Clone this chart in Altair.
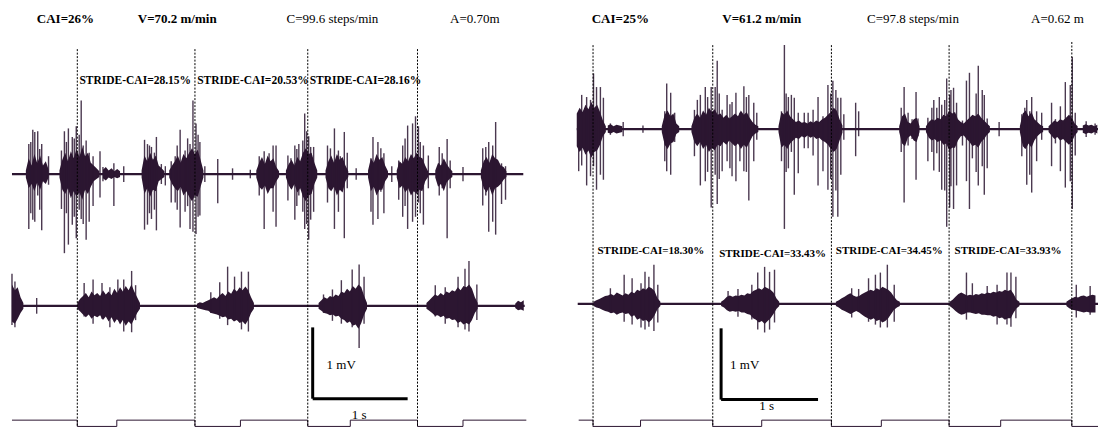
import altair as alt
import pandas as pd

INK = "#2c1631"
FONT = "Liberation Serif"
Y_TOP = 429 / 73.0          # vertical extent of each panel, in mV units
PANEL_W, PANEL_H = 545, 419
DT = 0.03                   # sampling step of the burst-core amplitude readings (s)

# ---------------- LEFT PANEL (CAI=26%) ----------------
L_XDOM = [-0.042, 5.698]
L1_OFF, L2_OFF = 3.548, 1.699          # trace baselines (layout)
L1_SPAN = (0.0, 5.385)
L2_SPAN = (0.0, 5.40)

# (time s, top mV, bottom mV) of the individual spikes, top EMG trace
L1_SPIKES = [
    (0.177, 0.42, -0.77), (0.198, 0.45, -0.55), (0.219, 0.62, -0.64), (0.240, 0.59, -0.67),
    (0.271, 0.60, -0.30), (0.292, 0.35, -0.50), (0.313, 0.42, -0.79), (0.385, 0.25, -0.15),
    (0.521, 0.33, -0.49), (0.552, 0.60, -1.11), (0.573, 0.45, -0.55), (0.594, 0.64, -0.99),
    (0.635, 0.52, -0.71), (0.656, 0.50, -0.60), (0.677, 0.67, -0.90), (0.708, 0.55, -0.50),
    (0.729, 1.03, -0.63), (0.750, 0.40, -0.70), (0.781, 0.47, -0.92), (0.813, 0.30, -0.67),
    (0.854, 0.25, -0.45), (0.927, 0.32, -0.33), (0.958, 0.10, -0.10), (1.073, 0.15, -0.45),
    (1.177, 0.11, -0.11),
    (1.396, 0.48, -0.78), (1.427, 0.42, -0.71), (1.448, 0.40, -0.55), (1.469, 0.38, -0.63),
    (1.500, 0.30, -0.50), (1.521, 0.52, -0.79), (1.573, 0.14, -0.14), (1.615, 0.11, -0.16),
    (1.677, 0.18, -0.40), (1.719, 0.25, -0.40), (1.740, 0.40, -0.50), (1.771, 0.62, -0.75),
    (1.823, 0.33, -0.53), (1.850, 0.50, -0.45), (1.875, 0.42, -0.77), (1.906, 1.03, -0.81),
    (1.938, 0.71, -0.84), (1.960, 0.55, -0.60), (1.979, 0.45, -0.58),
    (2.031, 0.11, -0.11), (2.167, 0.21, -0.41), (2.323, 0.08, -0.08), (2.510, 0.06, -0.06),
    (2.604, 0.25, -0.30), (2.656, 0.32, -0.77), (2.708, 0.29, -0.20), (2.750, 0.40, -0.53),
    (2.781, 0.40, -0.74),
    (2.906, 0.26, -0.37), (2.938, 0.22, -0.20), (2.979, 0.40, -0.64), (3.000, 0.35, -0.45),
    (3.021, 0.42, -0.30), (3.063, 0.47, -0.53), (3.083, 0.85, -0.77), (3.104, 0.60, -0.70),
    (3.125, 0.53, -0.92), (3.146, 0.38, -0.64), (3.177, 0.38, -0.53),
    (3.323, 0.40, -0.40), (3.354, 0.36, -0.20), (3.396, 0.64, -0.77), (3.438, 0.33, -0.53),
    (3.458, 0.25, -0.20), (3.500, 0.59, -0.90), (3.531, 0.30, -0.20), (3.625, 0.08, -0.08),
    (3.781, 0.22, -0.53), (3.802, 0.52, -0.71), (3.854, 0.45, -0.63), (3.885, 0.36, -0.25),
    (3.917, 0.29, -0.55), (4.000, 0.11, -0.11),
    (4.073, 0.19, -0.36), (4.115, 0.40, -0.60), (4.140, 0.50, -0.45), (4.167, 0.68, -0.77),
    (4.219, 0.71, -0.67), (4.250, 0.81, -0.60), (4.281, 0.67, -0.40), (4.300, 0.45, -0.55),
    (4.333, 0.40, -0.71), (4.385, 0.26, -0.20),
    (4.500, 0.38, -0.30), (4.531, 0.29, -0.20), (4.583, 0.49, -0.90), (4.615, 0.19, -0.20),
    (4.750, 0.10, -0.10),
    (4.958, 0.36, -0.44), (4.990, 0.38, -0.30), (5.021, 0.45, -0.81), (5.063, 0.40, -0.67),
    (5.094, 0.73, -0.85), (5.156, 0.15, -0.42), (5.198, 0.11, -0.36),
]
# dense burst cores: (start time s, upper amplitudes mV, lower amplitudes mV), one reading every DT
L1_CORES = [
    (0.146, [0.05, 0.22, 0.12, 0.28, 0.15, 0.26, 0.12, 0.18, 0.06], [0.05, 0.20, 0.14, 0.24, 0.12, 0.22, 0.10, 0.14, 0.05]),
    (0.500, [0.05, 0.20, 0.30, 0.18, 0.32, 0.22, 0.35, 0.24, 0.38, 0.25, 0.30, 0.16, 0.12, 0.08, 0.04],
            [0.05, 0.22, 0.28, 0.20, 0.34, 0.24, 0.32, 0.26, 0.36, 0.22, 0.28, 0.18, 0.10, 0.07, 0.04]),
    (0.958, [0.06, 0.10, 0.05, 0.08, 0.04, 0.07, 0.04], [0.06, 0.09, 0.05, 0.07, 0.04, 0.06, 0.04]),
    (1.365, [0.05, 0.26, 0.18, 0.30, 0.20, 0.26, 0.12, 0.08, 0.04], [0.05, 0.28, 0.20, 0.32, 0.22, 0.24, 0.10, 0.07, 0.04]),
    (1.656, [0.05, 0.12, 0.18, 0.26, 0.16, 0.28, 0.22, 0.30, 0.36, 0.28, 0.34, 0.20, 0.05],
            [0.05, 0.14, 0.20, 0.24, 0.18, 0.30, 0.24, 0.32, 0.38, 0.30, 0.32, 0.18, 0.05]),
    (2.573, [0.05, 0.16, 0.24, 0.14, 0.26, 0.18, 0.22, 0.10, 0.04], [0.05, 0.18, 0.22, 0.16, 0.28, 0.20, 0.20, 0.10, 0.04]),
    (2.885, [0.05, 0.14, 0.20, 0.12, 0.24, 0.18, 0.30, 0.36, 0.28, 0.30, 0.16, 0.05],
            [0.05, 0.16, 0.22, 0.14, 0.26, 0.20, 0.32, 0.38, 0.30, 0.28, 0.14, 0.05]),
    (3.302, [0.05, 0.18, 0.26, 0.16, 0.28, 0.20, 0.24, 0.12, 0.04], [0.05, 0.20, 0.24, 0.18, 0.30, 0.22, 0.26, 0.10, 0.04]),
    (3.750, [0.05, 0.22, 0.16, 0.28, 0.20, 0.24, 0.12, 0.04], [0.05, 0.24, 0.18, 0.30, 0.22, 0.22, 0.10, 0.04]),
    (4.052, [0.05, 0.18, 0.14, 0.24, 0.18, 0.28, 0.22, 0.30, 0.24, 0.22, 0.12, 0.04],
            [0.05, 0.20, 0.16, 0.26, 0.20, 0.30, 0.24, 0.28, 0.22, 0.24, 0.10, 0.04]),
    (4.458, [0.05, 0.16, 0.12, 0.22, 0.14, 0.08, 0.04], [0.05, 0.18, 0.14, 0.24, 0.12, 0.07, 0.04]),
    (4.938, [0.05, 0.18, 0.24, 0.16, 0.28, 0.22, 0.20, 0.12, 0.10, 0.04],
            [0.05, 0.20, 0.26, 0.18, 0.30, 0.20, 0.18, 0.14, 0.08, 0.04]),
]
L2_SPIKES = [
    (0.000, 0.45, -0.27), (0.031, 0.34, -0.30), (0.260, 0.11, -0.11),
    (0.760, 0.32, -0.15), (0.854, 0.37, -0.25), (0.948, 0.32, -0.18), (1.031, 0.26, -0.30),
    (1.115, 0.37, -0.20), (1.177, 0.37, -0.36), (1.260, 0.49, -0.37), (1.302, 0.29, -0.20),
    (2.094, 0.19, -0.10), (2.188, 0.33, -0.18), (2.271, 0.55, -0.27), (2.344, 0.41, -0.20),
    (2.417, 0.48, -0.33), (2.490, 0.48, -0.36),
    (3.281, 0.16, -0.10), (3.375, 0.23, -0.21), (3.469, 0.36, -0.25), (3.583, 0.51, -0.30),
    (3.656, 0.58, -0.59), (3.708, 0.41, -0.25),
    (4.458, 0.29, -0.15), (4.563, 0.26, -0.25), (4.698, 0.41, -0.30), (4.771, 0.52, -0.33),
    (4.813, 0.63, -0.36), (4.896, 0.30, -0.20),
]
L2_CORES = [
    (0.000, [0.30, 0.22, 0.26, 0.12, 0.04], [0.22, 0.25, 0.18, 0.10, 0.04]),
    (0.688, [0.04, 0.10, 0.14, 0.18, 0.12, 0.20, 0.15, 0.18, 0.14, 0.22, 0.16, 0.20, 0.15, 0.24, 0.18,
             0.26, 0.20, 0.28, 0.22, 0.30, 0.20, 0.12, 0.04],
            [0.04, 0.08, 0.12, 0.16, 0.12, 0.18, 0.14, 0.16, 0.13, 0.20, 0.15, 0.22, 0.16, 0.24, 0.18,
             0.26, 0.20, 0.28, 0.22, 0.26, 0.18, 0.10, 0.04]),
    (1.948, [0.03, 0.05, 0.04, 0.06, 0.08, 0.10, 0.12, 0.10, 0.15, 0.18, 0.14, 0.20, 0.17, 0.24, 0.20,
             0.26, 0.22, 0.27, 0.22, 0.12, 0.04],
            [0.03, 0.04, 0.05, 0.06, 0.07, 0.10, 0.11, 0.12, 0.14, 0.16, 0.15, 0.19, 0.18, 0.22, 0.20,
             0.24, 0.22, 0.26, 0.20, 0.10, 0.04]),
    (3.229, [0.04, 0.08, 0.12, 0.10, 0.14, 0.12, 0.16, 0.14, 0.20, 0.18, 0.24, 0.20, 0.28, 0.24, 0.30,
             0.26, 0.14, 0.04],
            [0.04, 0.07, 0.10, 0.11, 0.13, 0.12, 0.15, 0.14, 0.18, 0.20, 0.24, 0.22, 0.28, 0.26, 0.32,
             0.24, 0.12, 0.04]),
    (4.365, [0.04, 0.08, 0.12, 0.16, 0.14, 0.18, 0.15, 0.20, 0.18, 0.22, 0.20, 0.26, 0.22, 0.28, 0.26,
             0.30, 0.24, 0.12, 0.04],
            [0.04, 0.07, 0.10, 0.14, 0.13, 0.16, 0.14, 0.18, 0.17, 0.20, 0.19, 0.24, 0.22, 0.26, 0.24,
             0.26, 0.20, 0.10, 0.04]),
    (5.300, [0.03, 0.07, 0.05, 0.08], [0.03, 0.06, 0.05, 0.07]),
]
# footswitch: (time s, 1 = contact high, 0 = low)
L_FOOT = [(0.0, 1), (0.688, 0), (1.104, 1), (1.927, 0), (2.406, 1), (3.115, 0),
          (3.563, 1), (4.271, 0), (4.750, 1), (5.417, 1)]
L_STRIDES = [0.688, 1.927, 3.115, 4.271]
L_STRIDE_LABELS = ["STRIDE-CAI=28.15%", "STRIDE-CAI=20.53%", "STRIDE-CAI=28.16%"]
L_HEAD_BOLD = ["CAI=26%", "V=70.2 m/min"]
L_HEAD_BOLD_T = [0.563, 1.740]
L_HEAD_NORM = ["C=99.6 steps/min", "A=0.70m"]
L_HEAD_NORM_T = [3.375, 4.875]

# ---------------- RIGHT PANEL (CAI=25%) ----------------
R_XDOM = [-0.265, 5.357]
R1_OFF, R2_OFF = 4.178, 1.726
R1_SPAN = (-0.020, 5.357)
R2_SPAN = (-0.010, 5.357)

R1_SPIKES = [
    (0.000, 0.23, -0.59), (0.031, 0.48, -0.51), (0.082, 0.45, -0.79), (0.122, 0.41, -0.66),
    (0.153, 0.78, -0.52), (0.184, 0.59, -0.85), (0.224, 0.59, -0.64), (0.255, 0.44, -0.71),
    (0.327, 0.08, -0.08), (0.459, 0.10, -0.10), (0.663, 0.05, -0.05),
    (0.888, 0.25, -0.45), (0.908, 0.64, -0.59), (0.949, 0.51, -0.64), (0.990, 0.23, -0.18),
    (1.194, 0.27, -0.38), (1.224, 0.41, -0.20), (1.255, 0.48, -0.79), (1.306, 0.59, -0.73),
    (1.330, 0.45, -0.60), (1.367, 0.59, -1.10), (1.408, 0.59, -0.64), (1.429, 0.96, -1.05),
    (1.450, 0.50, -0.70), (1.480, 0.27, -0.59), (1.531, 0.48, -0.45), (1.560, 0.35, -0.55),
    (1.582, 0.38, -0.66), (1.622, 0.51, -0.73), (1.663, 0.23, -0.45), (1.704, 0.60, -0.59),
    (1.730, 0.45, -0.60), (1.755, 0.48, -1.00), (1.806, 0.37, -0.45), (1.837, 0.23, -0.15),
    (2.092, 0.25, -0.45), (2.122, 1.18, -1.40), (2.140, 0.50, -0.60), (2.163, 0.45, -0.55),
    (2.194, 0.48, -0.32), (2.224, 0.44, -0.92), (2.265, 0.23, -0.62), (2.327, 0.23, -0.27),
    (2.367, 0.23, -0.27), (2.418, 0.27, -0.37), (2.469, 0.45, -0.79), (2.520, 0.18, -0.59),
    (2.571, 0.62, -0.85), (2.600, 0.50, -0.70), (2.622, 0.68, -1.23), (2.653, 0.55, -0.86),
    (2.673, 0.44, -1.23), (2.704, 0.44, -0.64), (2.735, 0.21, -0.15),
    (2.857, 0.37, -0.38), (2.888, 0.25, -0.10),
    (3.327, 0.30, -0.32), (3.357, 0.59, -1.03), (3.398, 0.23, -0.23), (3.439, 0.14, -0.14),
    (3.480, 0.52, -0.71), (3.500, 0.15, -0.10),
    (3.602, 0.16, -0.45), (3.643, 0.30, -0.32), (3.663, 0.41, -0.58), (3.694, 0.30, -0.34),
    (3.720, 0.45, -0.60), (3.745, 0.34, -0.85), (3.776, 0.41, -0.86), (3.796, 0.71, -1.37),
    (3.827, 0.48, -1.10), (3.840, 0.55, -0.80), (3.867, 0.58, -1.12), (3.898, 0.37, -0.79),
    (3.959, 0.12, -0.23), (4.000, 0.68, -0.73), (4.031, 0.79, -1.12), (4.061, 0.15, -0.41),
    (4.100, 0.50, -0.60), (4.122, 0.89, -0.79), (4.163, 0.55, -0.52), (4.184, 0.48, -0.92),
    (4.214, 0.15, -0.55), (4.337, 0.10, -0.10),
    (4.571, 0.21, -0.38), (4.602, 0.30, -0.27), (4.622, 0.41, -0.78), (4.653, 0.25, -0.64),
    (4.673, 0.45, -0.89), (4.724, 0.25, -0.45), (4.776, 0.23, -0.15),
    (4.878, 0.37, -0.52), (4.918, 0.14, -0.20), (4.969, 0.32, -0.59), (5.020, 0.66, -0.82),
    (5.071, 0.62, -0.73), (5.092, 1.01, -1.12), (5.122, 0.23, -0.37),
    (5.235, 0.11, -0.11), (5.327, 0.08, -0.08),
]
R1_CORES = [
    (-0.020, [0.22, 0.30, 0.24, 0.34, 0.28, 0.38, 0.30, 0.34, 0.24, 0.12, 0.04],
             [0.24, 0.32, 0.26, 0.36, 0.30, 0.40, 0.32, 0.30, 0.22, 0.10, 0.04]),
    (0.300, [0.05, 0.07, 0.04, 0.06, 0.05, 0.04], [0.05, 0.06, 0.04, 0.06, 0.05, 0.04]),
    (0.857, [0.04, 0.20, 0.26, 0.18, 0.22, 0.08, 0.04], [0.04, 0.22, 0.28, 0.20, 0.18, 0.07, 0.04]),
    (1.163, [0.04, 0.16, 0.22, 0.16, 0.26, 0.20, 0.30, 0.24, 0.28, 0.20, 0.22, 0.16, 0.20, 0.15, 0.18,
             0.22, 0.18, 0.26, 0.20, 0.24, 0.16, 0.10, 0.06, 0.04],
            [0.04, 0.18, 0.24, 0.18, 0.28, 0.22, 0.32, 0.26, 0.30, 0.22, 0.24, 0.18, 0.22, 0.16, 0.20,
             0.24, 0.20, 0.28, 0.22, 0.26, 0.18, 0.10, 0.06, 0.04]),
    (2.061, [0.04, 0.24, 0.20, 0.26, 0.18, 0.14, 0.10, 0.12, 0.09, 0.10, 0.08, 0.11, 0.09, 0.12, 0.10,
             0.14, 0.16, 0.20, 0.24, 0.30, 0.26, 0.14, 0.05],
            [0.04, 0.26, 0.22, 0.28, 0.20, 0.16, 0.12, 0.14, 0.10, 0.12, 0.09, 0.12, 0.10, 0.14, 0.12,
             0.16, 0.18, 0.22, 0.28, 0.32, 0.28, 0.16, 0.05]),
    (3.306, [0.04, 0.18, 0.22, 0.10, 0.08, 0.14, 0.16, 0.04], [0.04, 0.20, 0.24, 0.12, 0.09, 0.16, 0.18, 0.04]),
    (3.582, [0.04, 0.10, 0.14, 0.12, 0.16, 0.14, 0.20, 0.18, 0.26, 0.22, 0.24, 0.14, 0.10, 0.08, 0.12,
             0.16, 0.20, 0.18, 0.22, 0.16, 0.12, 0.08, 0.04],
            [0.04, 0.12, 0.16, 0.14, 0.18, 0.16, 0.22, 0.20, 0.30, 0.26, 0.26, 0.16, 0.10, 0.09, 0.14,
             0.18, 0.24, 0.22, 0.26, 0.18, 0.14, 0.08, 0.04]),
    (4.551, [0.04, 0.22, 0.26, 0.18, 0.24, 0.14, 0.10, 0.06, 0.04], [0.04, 0.24, 0.28, 0.20, 0.26, 0.16, 0.10, 0.06, 0.04]),
    (4.847, [0.04, 0.08, 0.12, 0.10, 0.14, 0.12, 0.16, 0.20, 0.16, 0.08, 0.04],
            [0.04, 0.09, 0.14, 0.11, 0.16, 0.14, 0.18, 0.22, 0.18, 0.09, 0.04]),
    (5.200, [0.05, 0.07, 0.05, 0.06, 0.04, 0.06], [0.05, 0.07, 0.05, 0.06, 0.04, 0.06]),
]
R2_SPIKES = [
    (0.327, 0.22, -0.10), (0.469, 0.41, -0.25), (0.551, 0.36, -0.29), (0.643, 0.29, -0.33),
    (0.684, 0.45, -0.36), (0.724, 0.38, -0.32), (0.776, 0.55, -0.38), (0.816, 0.27, -0.26),
    (1.541, 0.18, -0.08), (1.643, 0.21, -0.18), (1.786, 0.27, -0.22), (1.847, 0.44, -0.36),
    (1.918, 0.52, -0.40), (1.969, 0.45, -0.36), (2.020, 0.48, -0.26),
    (2.816, 0.22, -0.19), (2.888, 0.21, -0.10), (2.990, 0.36, -0.25), (3.061, 0.41, -0.29),
    (3.112, 0.44, -0.33), (3.184, 0.55, -0.33), (3.255, 0.27, -0.25),
    (4.000, 0.44, -0.22), (4.061, 0.29, -0.12), (4.214, 0.25, -0.15), (4.316, 0.27, -0.29),
    (4.418, 0.44, -0.29), (4.459, 0.44, -0.32), (4.510, 0.38, -0.20),
    (5.133, 0.27, -0.19), (5.276, 0.25, -0.15),
]
R2_CORES = [
    (0.153, [0.03, 0.05, 0.07, 0.09, 0.11, 0.12, 0.14, 0.12, 0.16, 0.14, 0.12, 0.15, 0.13, 0.17, 0.15,
             0.20, 0.18, 0.22, 0.20, 0.24, 0.22, 0.18, 0.08, 0.03],
            [0.03, 0.05, 0.06, 0.08, 0.10, 0.11, 0.13, 0.12, 0.15, 0.13, 0.12, 0.14, 0.13, 0.18, 0.16,
             0.22, 0.20, 0.24, 0.22, 0.26, 0.22, 0.16, 0.07, 0.03]),
    (1.469, [0.03, 0.06, 0.10, 0.12, 0.10, 0.12, 0.11, 0.13, 0.12, 0.15, 0.14, 0.18, 0.20, 0.22, 0.20,
             0.24, 0.22, 0.20, 0.16, 0.08, 0.03],
            [0.03, 0.05, 0.09, 0.11, 0.10, 0.11, 0.10, 0.12, 0.12, 0.14, 0.15, 0.20, 0.22, 0.26, 0.24,
             0.28, 0.24, 0.20, 0.14, 0.07, 0.03]),
    (2.653, [0.03, 0.05, 0.08, 0.10, 0.13, 0.15, 0.12, 0.10, 0.11, 0.14, 0.16, 0.18, 0.20, 0.18, 0.22,
             0.20, 0.24, 0.22, 0.20, 0.16, 0.10, 0.05, 0.03],
            [0.03, 0.05, 0.08, 0.10, 0.12, 0.14, 0.12, 0.10, 0.12, 0.15, 0.18, 0.20, 0.22, 0.20, 0.24,
             0.22, 0.26, 0.24, 0.20, 0.14, 0.08, 0.05, 0.03]),
    (3.827, [0.03, 0.06, 0.10, 0.14, 0.16, 0.14, 0.12, 0.13, 0.12, 0.14, 0.13, 0.15, 0.14, 0.16, 0.15,
             0.17, 0.16, 0.18, 0.17, 0.20, 0.18, 0.20, 0.14, 0.06, 0.03],
            [0.03, 0.06, 0.10, 0.13, 0.15, 0.14, 0.12, 0.12, 0.13, 0.14, 0.13, 0.15, 0.15, 0.16, 0.16,
             0.18, 0.17, 0.20, 0.19, 0.22, 0.20, 0.20, 0.12, 0.06, 0.03]),
    (5.031, [0.03, 0.06, 0.08, 0.10, 0.09, 0.11, 0.12, 0.10, 0.12, 0.13, 0.12],
            [0.03, 0.06, 0.08, 0.09, 0.10, 0.11, 0.12, 0.11, 0.12, 0.12, 0.12]),
]
R_FOOT = [(0.0, 1), (0.148, 0), (0.638, 1), (1.383, 0), (1.888, 1), (2.607, 0),
          (3.122, 1), (3.821, 0), (4.353, 1), (5.087, 0), (5.357, 0)]
R_STRIDES = [0.148, 1.383, 2.607, 3.821, 5.087]
R_STRIDE_LABELS = ["STRIDE-CAI=18.30%", "STRIDE-CAI=33.43%", "STRIDE-CAI=34.45%", "STRIDE-CAI=33.93%"]
R_HEAD_BOLD = ["CAI=25%", "V=61.2 m/min"]
R_HEAD_BOLD_T = [0.429, 1.888]
R_HEAD_NORM = ["C=97.8 steps/min", "A=0.62 m"]
R_HEAD_NORM_T = [3.449, 4.939]


def build_panel(xdom, traces, foot, strides, dash_top, stride_labels, stride_pos,
                stride_size, heads_b, heads_bt, heads_n, heads_nt, bar, bar_lbl):
    xs = alt.Scale(domain=xdom, nice=False, zero=False)
    ys = alt.Scale(domain=[0, Y_TOP], nice=False, zero=False)

    def X(f):
        return alt.X(f, type="quantitative", scale=xs, axis=None)

    def Y(f):
        return alt.Y(f, type="quantitative", scale=ys, axis=None)

    base_rows, env_rows, spk_rows = [], [], []
    for k, (off, span, spikes, cores) in enumerate(traces):
        base_rows.append({"t0": span[0], "t1": span[1], "y": off})
        for b, (t0, ups, downs) in enumerate(cores):
            for i, (u, d) in enumerate(zip(ups, downs)):
                env_rows.append({"id": f"{k}-{b}", "t": t0 + i * DT, "lo": off - d, "hi": off + u})
        for t, top, bot in spikes:
            spk_rows.append({"t": t, "lo": off + bot, "hi": off + top})

    FS_HIGH, FS_LOW = 0.096, 0.008
    foot_df = pd.DataFrame([{"t": t, "y": FS_HIGH if v else FS_LOW} for t, v in foot])
    dash_df = pd.DataFrame([{"t": t, "top": dash_top[i], "bot": 0.0} for i, t in enumerate(strides)])

    layers = [
        alt.Chart(pd.DataFrame(base_rows)).mark_rule(color=INK, strokeWidth=2.2).encode(
            x=X("t0"), x2="t1", y=Y("y")),
        alt.Chart(pd.DataFrame(env_rows)).mark_area(color=INK, opacity=1).encode(
            x=X("t"), y=Y("lo"), y2="hi", detail="id:N"),
        alt.Chart(pd.DataFrame(spk_rows)).mark_rule(color=INK, strokeWidth=1.4, opacity=0.85).encode(
            x=X("t"), y=Y("lo"), y2="hi"),
        alt.Chart(foot_df).mark_line(color=INK, strokeWidth=1, interpolate="step-after").encode(
            x=X("t"), y=Y("y")),
        alt.Chart(dash_df).mark_rule(color="#000000", strokeWidth=1, strokeDash=[2, 1.5]).encode(
            x=X("t"), y=Y("top"), y2="bot"),
    ]

    bt, bb = bar
    bar_df = pd.DataFrame([
        {"x": bt, "x2": bt, "y": bb, "y2": bb + 1.0},
        {"x": bt, "x2": bt + 1.0, "y": bb, "y2": bb},
    ])
    layers.append(alt.Chart(bar_df).mark_rule(color="#000000", strokeWidth=3).encode(
        x=X("x"), x2="x2", y=Y("y"), y2="y2"))

    (mv_t, mv_y), (s_t, s_y) = bar_lbl
    layers.append(alt.Chart(pd.DataFrame([{"t": mv_t, "y": mv_y, "s": "1 mV"}])).mark_text(
        font=FONT, fontSize=13, align="left", baseline="middle", color="#000000").encode(
        x=X("t"), y=Y("y"), text="s:N"))
    layers.append(alt.Chart(pd.DataFrame([{"t": s_t, "y": s_y, "s": "1 s"}])).mark_text(
        font=FONT, fontSize=13, align="center", baseline="middle", color="#000000").encode(
        x=X("t"), y=Y("y"), text="s:N"))

    HEAD_Y = 5.726
    layers.append(alt.Chart(pd.DataFrame({"t": heads_bt, "s": heads_b, "y": HEAD_Y})).mark_text(
        font=FONT, fontSize=13, fontWeight="bold", align="center", baseline="middle",
        color="#000000").encode(x=X("t"), y=Y("y"), text="s:N"))
    layers.append(alt.Chart(pd.DataFrame({"t": heads_nt, "s": heads_n, "y": HEAD_Y})).mark_text(
        font=FONT, fontSize=13, align="center", baseline="middle",
        color="#000000").encode(x=X("t"), y=Y("y"), text="s:N"))

    st_df = pd.DataFrame([{"t": p[0], "y": p[1], "s": s} for s, p in zip(stride_labels, stride_pos)])
    layers.append(alt.Chart(st_df).mark_text(
        font=FONT, fontSize=stride_size, fontWeight="bold", align="left", baseline="middle",
        color="#000000").encode(x=X("t"), y=Y("y"), text="s:N"))

    return alt.layer(*layers).properties(width=PANEL_W, height=PANEL_H)


left = build_panel(
    L_XDOM,
    [(L1_OFF, L1_SPAN, L1_SPIKES, L1_CORES), (L2_OFF, L2_SPAN, L2_SPIKES, L2_CORES)],
    L_FOOT, L_STRIDES, [5.30, 5.30, 5.30, 5.30],
    L_STRIDE_LABELS, [(0.71, 4.85), (1.95, 4.85), (3.135, 4.85)], 11.5,
    L_HEAD_BOLD, L_HEAD_BOLD_T, L_HEAD_NORM, L_HEAD_NORM_T,
    (3.167, 0.397), ((3.313, 0.863), (3.656, 0.164)),
)
right = build_panel(
    R_XDOM,
    [(R1_OFF, R1_SPAN, R1_SPIKES, R1_CORES), (R2_OFF, R2_SPAN, R2_SPIKES, R2_CORES)],
    R_FOOT, R_STRIDES, [5.356, 5.356, 5.356, 5.356, 5.40],
    R_STRIDE_LABELS, [(0.194, 2.47), (1.449, 2.43), (2.653, 2.47), (3.878, 2.47)], 11,
    R_HEAD_BOLD, R_HEAD_BOLD_T, R_HEAD_NORM, R_HEAD_NORM_T,
    (1.469, 0.384), ((1.561, 0.863), (1.939, 0.288)),
)

chart = alt.hconcat(left, right, spacing=0).properties(padding=0).configure_view(stroke=None)
chart.save("out.html", embed_options={"renderer": "svg", "actions": False})
